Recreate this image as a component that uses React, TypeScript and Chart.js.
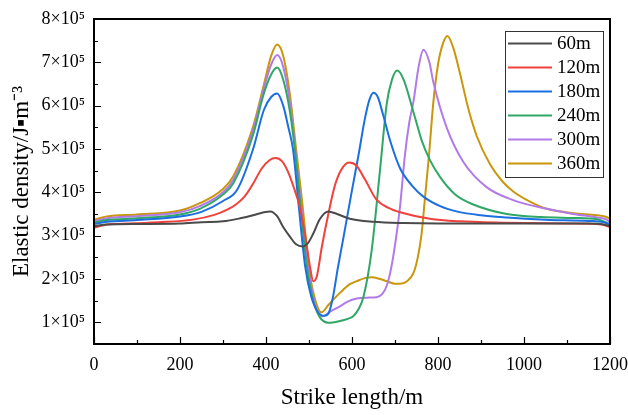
import React, { useEffect, useRef } from "react";
import { Chart, registerables } from "chart.js";

Chart.register(...registerables);

// ---- data (density in units of 10^5 J·m^-3, strike length in m) ----
const seriesLabels = ["60m", "120m", "180m", "240m", "300m", "360m"];
const seriesColors = ["#4a4a4a", "#f0413c", "#1b6fe0", "#2fa866", "#b27ae8", "#c9960c"];

const strike60 = [0, 30, 100, 200, 250, 300, 340, 370, 395, 410, 425, 440, 456, 470, 485, 497, 510, 525, 545, 565, 595, 650, 720, 800, 1000, 1150, 1185, 1200];
const density60 = [3.22, 3.26, 3.27, 3.28, 3.31, 3.33, 3.40, 3.47, 3.54, 3.56, 3.46, 3.2, 2.97, 2.80, 2.75, 2.82, 3.05, 3.38, 3.56, 3.50, 3.39, 3.32, 3.29, 3.28, 3.28, 3.28, 3.26, 3.22];

const strike120 = [0, 30, 80, 150, 230, 280, 310, 330, 350, 370, 390, 408, 422, 437, 450, 465, 479, 492, 502, 510, 518, 530, 545, 560, 575, 593, 610, 630, 657, 685, 712, 781, 850, 950, 1100, 1180, 1200];
const density120 = [3.18, 3.26, 3.28, 3.31, 3.37, 3.48, 3.60, 3.72, 3.90, 4.20, 4.55, 4.74, 4.79, 4.72, 4.50, 4.10, 3.65, 2.95, 2.30, 1.95, 2.05, 2.75, 3.50, 4.15, 4.52, 4.69, 4.62, 4.30, 3.83, 3.64, 3.54, 3.39, 3.33, 3.30, 3.28, 3.26, 3.20];

const strike180 = [0, 30, 100, 200, 250, 300, 333, 370, 395, 412, 426, 440, 452, 463, 477, 491, 505, 520, 535, 545, 555, 567, 580, 600, 615, 630, 641, 650, 660, 672, 690, 712, 740, 766, 805, 843, 900, 960, 1050, 1150, 1185, 1200];
const density180 = [3.27, 3.32, 3.36, 3.44, 3.55, 3.80, 4.06, 5.00, 5.90, 6.20, 6.28, 6.00, 5.50, 4.98, 3.60, 2.30, 1.60, 1.25, 1.15, 1.20, 1.55, 2.25, 2.95, 4.05, 4.85, 5.70, 6.15, 6.30, 6.20, 5.80, 5.15, 4.55, 4.15, 3.90, 3.68, 3.56, 3.47, 3.42, 3.37, 3.34, 3.31, 3.25];

const strike240 = [0, 30, 100, 200, 246, 300, 324, 370, 394, 412, 426, 440, 455, 467, 480, 495, 510, 525, 545, 572, 590, 603, 615, 627, 646, 665, 681, 693, 705, 720, 743, 762, 781, 805, 840, 882, 960, 1040, 1114, 1170, 1192, 1200];
const density240 = [3.30, 3.36, 3.40, 3.49, 3.62, 3.95, 4.21, 5.33, 6.25, 6.72, 6.88, 6.60, 5.90, 5.00, 3.70, 2.30, 1.50, 1.12, 0.99, 1.03, 1.08, 1.14, 1.30, 1.60, 2.68, 4.50, 6.06, 6.60, 6.81, 6.60, 5.85, 5.20, 4.75, 4.35, 3.95, 3.72, 3.50, 3.43, 3.41, 3.38, 3.30, 3.25];

const strike300 = [0, 30, 100, 200, 246, 300, 324, 370, 394, 412, 426, 440, 455, 468, 482, 497, 512, 522, 533, 550, 572, 590, 611, 635, 657, 670, 681, 692, 704, 712, 723, 733, 743, 755, 766, 780, 789, 820, 859, 913, 975, 1053, 1114, 1170, 1192, 1200];
const density300 = [3.33, 3.40, 3.45, 3.54, 3.68, 4.00, 4.29, 5.44, 6.36, 6.95, 7.17, 6.90, 6.10, 5.00, 3.65, 2.30, 1.50, 1.20, 1.14, 1.25, 1.37, 1.48, 1.55, 1.57, 1.58, 1.65, 1.85, 2.30, 3.06, 3.70, 4.85, 5.60, 6.10, 6.90, 7.29, 7.00, 6.55, 5.50, 4.70, 4.12, 3.82, 3.62, 3.50, 3.42, 3.37, 3.30];

const strike360 = [0, 30, 100, 200, 246, 298, 324, 370, 394, 412, 426, 440, 455, 470, 485, 502, 515, 529, 545, 572, 595, 611, 630, 646, 665, 681, 700, 712, 728, 743, 753, 762, 770, 779, 789, 800, 812, 822, 835, 851, 870, 890, 921, 950, 975, 1015, 1053, 1115, 1170, 1192, 1200];
const density360 = [3.37, 3.445, 3.49, 3.58, 3.75, 4.06, 4.37, 5.52, 6.44, 7.15, 7.41, 7.15, 6.30, 5.00, 3.70, 2.10, 1.50, 1.23, 1.40, 1.68, 1.88, 1.95, 2.02, 2.04, 2.00, 1.95, 1.89, 1.89, 1.95, 2.14, 2.50, 3.06, 3.90, 4.85, 6.06, 6.95, 7.45, 7.61, 7.35, 6.75, 5.95, 5.30, 4.65, 4.25, 4.02, 3.78, 3.62, 3.52, 3.47, 3.43, 3.38];

const strikeSets = [strike60, strike120, strike180, strike240, strike300, strike360];
const densitySets = [density60, density120, density180, density240, density300, density360];

const xTicks = [0, 200, 400, 600, 800, 1000, 1200];
const xMinorTicks = [100, 300, 500, 700, 900, 1100];
const yTicks = [1, 2, 3, 4, 5, 6, 7, 8];
const yMinorTicks = [1.5, 2.5, 3.5, 4.5, 5.5, 6.5, 7.5];

const xTitle = "Strike length/m";
const yTitle = "Elastic density/J\u25AAm\u207B\u00B3";
const FONT = "'Liberation Serif', 'Times New Roman', serif";

const frameTicksPlugin = {
  id: "frameTicks",
  afterDatasetsDraw(chart: any) {
    const { ctx, chartArea: a, scales } = chart;
    const xs = scales.x;
    const ys = scales.y;
    ctx.save();
    ctx.strokeStyle = "#000";
    ctx.lineWidth = 1.2;
    ctx.beginPath();
    for (const v of xTicks) {
      const p = Math.round(xs.getPixelForValue(v)) + 0.5;
      ctx.moveTo(p, a.bottom);
      ctx.lineTo(p, a.bottom - 7);
    }
    for (const v of xMinorTicks) {
      const p = Math.round(xs.getPixelForValue(v)) + 0.5;
      ctx.moveTo(p, a.bottom);
      ctx.lineTo(p, a.bottom - 4);
    }
    for (const v of yTicks) {
      const p = Math.round(ys.getPixelForValue(v)) + 0.5;
      ctx.moveTo(a.left, p);
      ctx.lineTo(a.left + 7, p);
    }
    for (const v of yMinorTicks) {
      const p = Math.round(ys.getPixelForValue(v)) + 0.5;
      ctx.moveTo(a.left, p);
      ctx.lineTo(a.left + 4, p);
    }
    ctx.stroke();
    ctx.lineWidth = 2;
    ctx.strokeRect(a.left, a.top, a.right - a.left, a.bottom - a.top);

    // legend
    const boxR = a.right - 7;
    const boxL = boxR - 98;
    const boxT = a.top + 11.5;
    const rowH = 24;
    const boxH = rowH * seriesLabels.length + 2;
    ctx.fillStyle = "#fff";
    ctx.fillRect(boxL, boxT, boxR - boxL, boxH);
    ctx.lineWidth = 1;
    ctx.strokeStyle = "#333";
    ctx.strokeRect(Math.round(boxL) + 0.5, Math.round(boxT) + 0.5, boxR - boxL, boxH);
    ctx.font = `19px ${FONT}`;
    ctx.textBaseline = "middle";
    ctx.textAlign = "left";
    chart.data.datasets.forEach((ds: any, i: number) => {
      const cy = boxT + 13 + i * rowH;
      ctx.strokeStyle = ds.borderColor;
      ctx.lineWidth = 2;
      ctx.beginPath();
      ctx.moveTo(boxL + 3, cy);
      ctx.lineTo(boxL + 47, cy);
      ctx.stroke();
      ctx.fillStyle = "#000";
      ctx.fillText(ds.label, boxL + 52, cy + 1);
    });
    ctx.restore();
  },
};

export default function App() {
  const ref = useRef<HTMLCanvasElement | null>(null);
  useEffect(() => {
    if (!ref.current) return;
    const datasets = seriesLabels.map((label, i) => ({
      label,
      data: strikeSets[i].map((x, j) => ({ x, y: densitySets[i][j] })),
      borderColor: seriesColors[i],
      backgroundColor: seriesColors[i],
      borderWidth: 2,
      pointRadius: 0,
      fill: false,
      cubicInterpolationMode: "monotone" as const,
    }));
    const chart = new Chart(ref.current, {
      type: "line",
      data: { datasets },
      options: {
        animation: false,
        responsive: true,
        maintainAspectRatio: false,
        layout: { padding: { top: 19, right: 18, left: 0, bottom: 0 } },
        plugins: { legend: { display: false }, tooltip: { enabled: false } },
        scales: {
          x: {
            type: "linear",
            min: 0,
            max: 1200,
            afterBuildTicks: (s: any) => {
              s.ticks = xTicks.map((v) => ({ value: v }));
            },
            afterFit: (s: any) => {
              s.height = 71;
              s.paddingLeft = 0;
              s.paddingRight = 0;
            },
            grid: { display: false, drawTicks: false },
            border: { display: false },
            ticks: {
              color: "#000",
              font: { family: FONT, size: 18 },
              padding: 10,
              maxRotation: 0,
              autoSkip: false,
              callback: (v: any) => String(v),
            },
            title: { display: true, text: xTitle, color: "#000", font: { family: FONT, size: 23 }, padding: { top: 0, bottom: 3 } },
          },
          y: {
            type: "linear",
            min: 0.5,
            max: 8,
            afterBuildTicks: (s: any) => {
              s.ticks = yTicks.map((v) => ({ value: v }));
            },
            afterFit: (s: any) => {
              s.width = 94;
              s.paddingTop = 0;
              s.paddingBottom = 0;
            },
            grid: { display: false, drawTicks: false },
            border: { display: false },
            ticks: {
              color: "#000",
              font: { family: FONT, size: 18 },
              padding: 9,
              autoSkip: false,
              callback: (v: any) => `${v}\u00D710\u2075`,
            },
            title: { display: true, text: yTitle, color: "#000", font: { family: FONT, size: 23 }, padding: { top: 8, bottom: 0 } },
          },
        },
      },
      plugins: [frameTicksPlugin],
    });
    return () => chart.destroy();
  }, []);
  return (
    <div style={{ position: "fixed", left: 0, top: 0, width: 628, height: 415, background: "#fff" }}>
      <canvas ref={ref} />
    </div>
  );
}
